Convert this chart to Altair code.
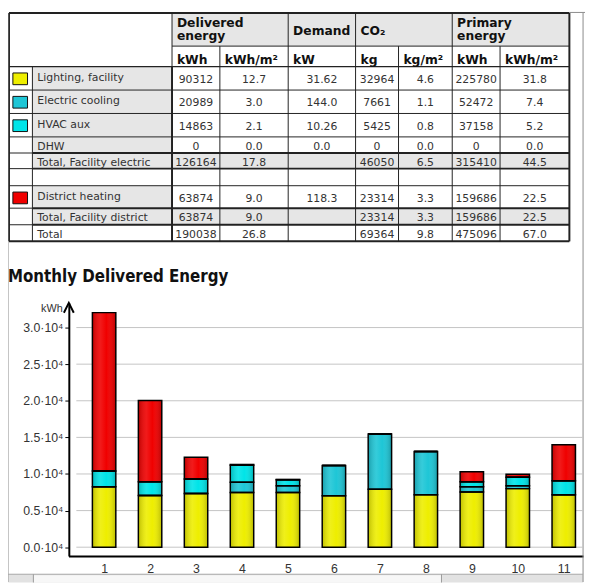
import altair as alt
import pandas as pd

# ---------------- data ----------------
months = list(range(1, 12))
series = ["Lighting, facility", "Electric cooling", "HVAC aux", "DHW", "District heating"]
lighting = [8270, 7070, 7330, 7460, 7460, 7020, 7900, 7150, 7550, 8000, 7150]
cooling = [0, 0, 0, 1420, 940, 4130, 7570, 5910, 720, 400, 0]
hvac_aux = [2130, 1860, 2000, 2320, 800, 0, 0, 0, 660, 1150, 1920]
dhw = [0, 0, 0, 0, 0, 0, 0, 0, 0, 0, 0]
district = [21640, 11110, 2940, 100, 60, 0, 0, 0, 1370, 400, 4930]
series_colors = ["#eeee00", "#1ec6d6", "#00e4e8", "#8080ff", "#f00000"]
y_ticks = [0, 5000, 10000, 15000, 20000, 25000, 30000]

row_labels = ["Lighting, facility", "Electric cooling", "HVAC aux", "DHW",
              "Total, Facility electric", "", "District heating",
              "Total, Facility district", "Total"]
deliv_kwh = ["90312", "20989", "14863", "0", "126164", "", "63874", "63874", "190038"]
deliv_m2 = ["12.7", "3.0", "2.1", "0.0", "17.8", "", "9.0", "9.0", "26.8"]
demand_kw = ["31.62", "144.0", "10.26", "0.0", "", "", "118.3", "", ""]
co2_kg = ["32964", "7661", "5425", "0", "46050", "", "23314", "23314", "69364"]
co2_m2 = ["4.6", "1.1", "0.8", "0.0", "6.5", "", "3.3", "3.3", "9.8"]
prim_kwh = ["225780", "52472", "37158", "0", "315410", "", "159686", "159686", "475096"]
prim_m2 = ["31.8", "7.4", "5.2", "0.0", "44.5", "", "22.5", "22.5", "67.0"]
group_headers = ["Delivered\nenergy", "Demand", "CO\u2082", "Primary\nenergy"]
unit_headers = ["kWh", "kWh/m\u00b2", "kW", "kg", "kg/m\u00b2", "kWh", "kWh/m\u00b2"]
title_text = "Monthly Delivered Energy"

# ---------------- layout (reference pixel coordinates) ----------------
W, H = 585, 578
def PX(r):
    return (r - 2) * W / 591
def PY(r):
    return (r - 2) * H / 584

col_edges = [3, 27, 170, 219, 289, 358, 402, 457, 506, 577]
row_tops = [58, 82, 106, 130, 146.5, 162.5, 180, 203, 220]
row_bots = [82, 106, 130, 146.5, 162.5, 180, 203, 220, 237]
group_spans = [(170, 289), (289, 358), (358, 457), (457, 577)]
group_text_y = [7, 15, 15, 7]
label_gray_rows = [0, 1, 2, 3, 6]
full_gray_rows = [4, 7]
swatch_rows = {0: 0, 1: 1, 2: 2, 6: 4}
GRAY = "#e6e6e6"
LINE = "#222222"

page_x = alt.Scale(domain=[2, 593], range=[0, W], nice=False, zero=False)
page_y = alt.Scale(domain=[2, 586], range=[0, H], nice=False, zero=False)

# ---- rect cells ----
rects = []
for (a, b) in group_spans:
    rects.append(dict(x=a, x2=b, y=3, y2=37, f=GRAY))
for r in label_gray_rows:
    rects.append(dict(x=27, x2=170, y=row_tops[r], y2=row_bots[r], f=GRAY))
for r in full_gray_rows:
    rects.append(dict(x=27, x2=577, y=row_tops[r], y2=row_bots[r], f=GRAY))
# scrollbar at the bottom
rects.append(dict(x=2.5, x2=591, y=578, y2=586.5, f="#e2e2e2"))
rects.append(dict(x=28, x2=446, y=579, y2=586.5, f="#f7f7f7"))
rect_df = pd.DataFrame(rects)

sw = []
for r, si in swatch_rows.items():
    sw.append(dict(x=7, x2=22, y=row_tops[r] + 6.5, y2=row_tops[r] + 18.5, f=series_colors[si]))
sw_df = pd.DataFrame(sw)

# ---- lines ----
lines = []
def hl(y, a, b, w=1, c=LINE):
    lines.append(dict(x=a, x2=b, y=y, y2=y, w=w, c=c))
def vl(x, a, b, w=1, c=LINE):
    lines.append(dict(x=x, x2=x, y=a, y2=b, w=w, c=c))

hl(3, 3, 577, 2)
hl(37, 170, 577)
hl(58, 3, 577, 1.2)
for y in [82, 106, 130, 180]:
    hl(y, 3, 577)
for y in [146.5, 162.5, 203, 220]:
    hl(y, 3, 27)
    hl(y, 27, 577, 2)
hl(237, 3, 577, 2)
vl(3, 3, 237, 2)
vl(27, 58, 237)
vl(170, 3, 58)
vl(170, 58, 237, 2)
for x in [219, 402, 506]:
    vl(x, 37, 237)
for x in [289, 358, 457]:
    vl(x, 3, 237)
vl(577, 3, 237, 2)
# window frame
vl(2, 3, 586, 1, "#8a8a8a")
vl(591, 3, 586, 1, "#8a8a8a")
hl(2.5, 577, 593, 1, "#8a8a8a")
hl(578, 2, 591, 1, "#a8a8a8")
lines.append(dict(x=28, x2=28, y=578, y2=586.5, w=1, c="#9a9a9a"))
lines.append(dict(x=446, x2=446, y=578, y2=586.5, w=1, c="#9a9a9a"))
line_df = pd.DataFrame(lines)

# ---- texts ----
hdr = [dict(x=a + 5, y=ty, t=t) for (a, b), ty, t in zip(group_spans, group_text_y, group_headers)]
for i, t in enumerate(unit_headers):
    hdr.append(dict(x=col_edges[i + 2] + 5, y=45, t=t))
hdr_df = pd.DataFrame(hdr)

lab = []
for r, t in enumerate(row_labels):
    if t:
        h = row_bots[r] - row_tops[r]
        lab.append(dict(x=32, y=row_tops[r] + (5.5 if h > 20 else 4.3), t=t))
lab_df = pd.DataFrame(lab)

val = []
cols = [deliv_kwh, deliv_m2, demand_kw, co2_kg, co2_m2, prim_kwh, prim_m2]
for ci, col in enumerate(cols):
    cx = (col_edges[ci + 2] + col_edges[ci + 3]) / 2
    for r, t in enumerate(col):
        if t:
            val.append(dict(x=cx, y=(row_tops[r] + row_bots[r]) / 2 + 1.8, t=t))
val_df = pd.DataFrame(val)

title_df = pd.DataFrame([dict(x=2, y=278.5, t=title_text)])
unit_df = pd.DataFrame([dict(x=58, y=309.5, t="kWh")])
arrow_df = pd.DataFrame([dict(x=64.3, y=300)])

def enc_rect(ch):
    return ch.encode(
        x=alt.X("x:Q", scale=page_x, axis=None),
        x2="x2:Q",
        y=alt.Y("y:Q", scale=page_y, axis=None),
        y2="y2:Q",
    )

def enc_pt(ch):
    return ch.encode(
        x=alt.X("x:Q", scale=page_x, axis=None),
        y=alt.Y("y:Q", scale=page_y, axis=None),
    )

cells = enc_rect(alt.Chart(rect_df).mark_rect(strokeWidth=0)).encode(
    fill=alt.Fill("f:N", scale=None))
swatches = enc_rect(alt.Chart(sw_df).mark_rect(stroke="#111", strokeWidth=1)).encode(
    fill=alt.Fill("f:N", scale=None))
rules = enc_rect(alt.Chart(line_df).mark_rule()).encode(
    strokeWidth=alt.StrokeWidth("w:Q", scale=None),
    color=alt.Color("c:N", scale=None))

hdr_txt = enc_pt(alt.Chart(hdr_df).mark_text(
    align="left", baseline="top", font="DejaVu Sans", fontWeight="bold",
    fontSize=12.5, lineBreak="\n", lineHeight=13, color="#111")).encode(text="t:N")
lab_txt = enc_pt(alt.Chart(lab_df).mark_text(
    align="left", baseline="top", font="DejaVu Sans", fontSize=11,
    color="#333")).encode(text="t:N")
val_txt = enc_pt(alt.Chart(val_df).mark_text(
    align="center", baseline="middle", font="DejaVu Sans", fontSize=11,
    color="#333")).encode(text="t:N")
title_txt = enc_pt(alt.Chart(title_df).mark_text(
    align="left", baseline="alphabetic", font="DejaVu Sans Condensed",
    fontWeight="bold", fontSize=17, color="#111")).encode(text="t:N")
unit_txt = enc_pt(alt.Chart(unit_df).mark_text(
    align="right", baseline="alphabetic", font="Liberation Sans", fontSize=11,
    color="#333")).encode(text="t:N")
arrow = enc_pt(alt.Chart(arrow_df).mark_point(
    shape="M-1,2L0,0L1,2", size=100, filled=False, stroke="#000",
    strokeWidth=2, opacity=1))

page = alt.layer(cells, swatches, rules, hdr_txt, lab_txt, val_txt,
                 title_txt, unit_txt, arrow)

# ---------------- bar chart ----------------
recs = []
vals_by_series = [lighting, cooling, hvac_aux, dhw, district]
for si, (name, vals) in enumerate(zip(series, vals_by_series)):
    for m, v in zip(months, vals):
        recs.append(dict(month=m, series=name, value=v, order=si))
bar_df = pd.DataFrame(recs)
grid_df = pd.DataFrame(dict(v=y_ticks))

bar_y = alt.Scale(domain=[-(559.3 - 550.3) / 0.0075, (550.3 - 300) / 0.0075],
                  range=[PY(559.3), PY(300)], nice=False, zero=False)
bar_x = alt.Scale(domain=[1 - 32 / 48, 11 + 15 / 48],
                  range=[PX(64), PX(591)], nice=False, zero=False)

yaxis = alt.Axis(orient="left", offset=-PX(64.3), values=y_ticks,
                 labelExpr="format(datum.value/10000, '.1f') + '\u00b710\u2074'",
                 grid=False, domainColor="#000", domainWidth=2,
                 tickColor="#000", tickSize=4, tickWidth=1, labelPadding=2,
                 labelFont="Liberation Sans", labelFontSize=12.5,
                 labelColor="#333", title=None)
xaxis = alt.Axis(orient="bottom", offset=-(H - PY(559.3)), values=months,
                 format="d", grid=False, ticks=False, domainColor="#000",
                 domainWidth=2, labelPadding=7, labelFont="Liberation Sans",
                 labelFontSize=12.5, labelColor="#333", labelBaseline="top",
                 title=None)

grid = alt.Chart(grid_df).mark_rule(color="#c4c4c4", strokeWidth=1).encode(
    y=alt.Y("v:Q", scale=bar_y, axis=yaxis),
    x=alt.value(PX(72)), x2=alt.value(PX(591)))

bw = 24 * W / 591
base = alt.Chart(bar_df).transform_stack(
    stack="value", groupby=["month"], as_=["y0", "y1"],
    sort=[alt.SortField("order", order="ascending")]
).encode(
    x=alt.X("month:Q", scale=bar_x, axis=xaxis),
    y=alt.Y("y0:Q", scale=bar_y, axis=yaxis),
    y2="y1:Q",
)
fills = base.mark_bar(size=bw, strokeWidth=0).encode(
    color=alt.Color("series:N", scale=alt.Scale(domain=series, range=series_colors),
                    legend=None))
shade = base.mark_bar(size=bw, strokeWidth=0, color=alt.Gradient(
    gradient="linear", x1=0, x2=1, y1=0, y2=0,
    stops=[alt.GradientStop(color="rgba(0,0,0,0.20)", offset=0),
           alt.GradientStop(color="rgba(255,255,255,0.10)", offset=0.35),
           alt.GradientStop(color="rgba(255,255,255,0.0)", offset=0.6),
           alt.GradientStop(color="rgba(0,0,0,0.22)", offset=1)]))
outline = base.mark_bar(size=bw, filled=False, stroke="#000", strokeWidth=1.5)

bars = alt.layer(grid, fills, shade, outline)

chart = alt.layer(page, bars).resolve_scale(
    x="independent", y="independent"
).properties(
    width=W, height=H, padding=0, autosize=alt.AutoSizeParams(type="none")
).configure_view(stroke=None)

chart.save("out.html", embed_options={"renderer": "svg", "actions": False})
